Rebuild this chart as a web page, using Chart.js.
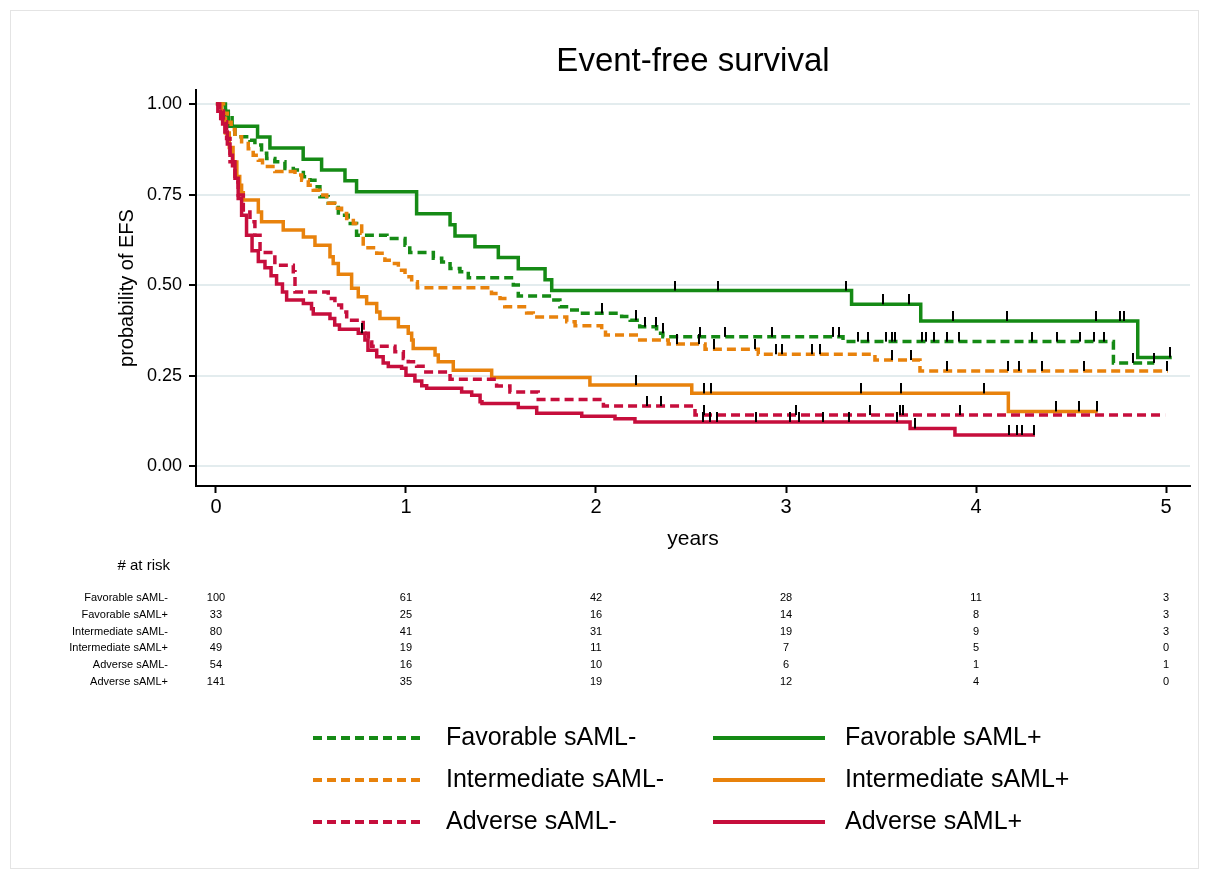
<!DOCTYPE html>
<html>
<head>
<meta charset="utf-8">
<title>Event-free survival</title>
<script src="https://cdn.jsdelivr.net/npm/chart.js@4.4.1/dist/chart.umd.min.js"></script>
<style>
  html, body { margin: 0; padding: 0; background: #fff; }
  #wrap { position: relative; width: 1209px; height: 879px; }
</style>
</head>
<body>
<div id="wrap"><canvas id="km" width="1209" height="879"></canvas></div>
<script>
const groups = ["Favorable sAML-", "Favorable sAML+", "Intermediate sAML-",
                "Intermediate sAML+", "Adverse sAML-", "Adverse sAML+"];

const xTicks = [0, 1, 2, 3, 4, 5];
const yTicks = [0, 0.25, 0.5, 0.75, 1];

// Kaplan-Meier steps: time (years) and survival after the step
const favNegT = [0, 0.03, 0.05, 0.065, 0.085, 0.1, 0.179, 0.205, 0.24, 0.267, 0.31, 0.363, 0.407, 0.46, 0.495, 0.521, 0.547, 0.591, 0.644, 0.696, 0.74, 0.9, 0.995, 1.02, 1.144, 1.188, 1.232, 1.284, 1.328, 1.565, 1.591, 1.767, 1.81, 1.863, 1.916, 2.135, 2.18, 2.23, 2.319, 2.352, 3.30, 4.723, 4.938];
const favNegS = [1, 0.99, 0.98, 0.97, 0.94, 0.91, 0.90, 0.887, 0.864, 0.85, 0.841, 0.822, 0.818, 0.799, 0.79, 0.772, 0.744, 0.726, 0.693, 0.67, 0.638, 0.629, 0.61, 0.59, 0.574, 0.564, 0.546, 0.537, 0.52, 0.50, 0.470, 0.459, 0.44, 0.431, 0.422, 0.413, 0.403, 0.385, 0.367, 0.357, 0.344, 0.285, 0.285];
const favNegCens = [2.03, 2.21, 2.258, 2.314, 2.35, 2.547, 2.68, 2.925, 3.246, 3.281, 3.381, 3.433, 3.525, 3.558, 3.574, 3.718, 3.735, 3.779, 3.846, 3.909, 4.296, 4.428, 4.547, 4.623, 4.674, 4.825, 4.938];

const favPosT = [0, 0.05, 0.065, 0.219, 0.284, 0.459, 0.556, 0.679, 0.74, 1.056, 1.232, 1.258, 1.363, 1.486, 1.591, 1.732, 1.767, 3.345, 3.709, 4.851, 5.03];
const favPosS = [1, 0.97, 0.939, 0.909, 0.879, 0.848, 0.818, 0.788, 0.758, 0.697, 0.667, 0.636, 0.606, 0.576, 0.545, 0.515, 0.485, 0.447, 0.401, 0.300, 0.300];
const favPosCens = [2.416, 2.644, 3.314, 3.509, 3.649, 3.879, 4.165, 4.630, 4.758, 4.781, 5.02];

const intNegT = [0, 0.04, 0.06, 0.08, 0.1, 0.135, 0.17, 0.196, 0.223, 0.245, 0.31, 0.416, 0.451, 0.486, 0.512, 0.547, 0.583, 0.626, 0.661, 0.688, 0.723, 0.767, 0.775, 0.846, 0.889, 0.925, 0.96, 0.995, 1.03, 1.06, 1.45, 1.495, 1.52, 1.635, 1.67, 1.846, 1.89, 2.03, 2.05, 2.23, 2.38, 2.574, 2.854, 3.468, 3.705, 5.01];
const intNegS = [1, 0.975, 0.95, 0.93, 0.91, 0.891, 0.877, 0.859, 0.845, 0.828, 0.814, 0.804, 0.79, 0.776, 0.762, 0.749, 0.726, 0.712, 0.698, 0.684, 0.670, 0.643, 0.603, 0.588, 0.569, 0.56, 0.541, 0.523, 0.509, 0.493, 0.477, 0.463, 0.44, 0.423, 0.412, 0.399, 0.388, 0.376, 0.362, 0.348, 0.337, 0.323, 0.309, 0.293, 0.263, 0.263];
const intNegCens = [2.425, 2.544, 2.621, 2.837, 2.946, 2.98, 3.138, 3.179, 3.56, 3.658, 3.846, 4.17, 4.228, 4.346, 4.568, 5.007];

const intPosT = [0, 0.03, 0.05, 0.07, 0.09, 0.11, 0.125, 0.135, 0.144, 0.223, 0.24, 0.354, 0.46, 0.521, 0.6, 0.617, 0.644, 0.714, 0.749, 0.793, 0.846, 0.863, 0.96, 1.012, 1.03, 1.038, 1.153, 1.17, 1.249, 1.451, 1.968, 2.504, 4.17, 4.64];
const intPosS = [1, 0.96, 0.92, 0.88, 0.84, 0.80, 0.776, 0.755, 0.735, 0.702, 0.675, 0.652, 0.633, 0.61, 0.578, 0.56, 0.53, 0.491, 0.468, 0.449, 0.426, 0.408, 0.385, 0.367, 0.348, 0.325, 0.307, 0.288, 0.265, 0.245, 0.224, 0.201, 0.151, 0.151];
const intPosCens = [2.209, 2.57, 2.604, 3.393, 3.605, 4.044, 4.42, 4.542, 4.638];

const advNegT = [0, 0.02, 0.039, 0.056, 0.074, 0.1, 0.117, 0.144, 0.179, 0.205, 0.232, 0.31, 0.407, 0.416, 0.591, 0.626, 0.661, 0.688, 0.775, 0.802, 0.82, 0.942, 0.986, 1.012, 1.056, 1.09, 1.232, 1.477, 1.547, 1.696, 2.039, 2.521, 4.995];
const advNegS = [1, 0.981, 0.951, 0.905, 0.841, 0.785, 0.749, 0.702, 0.675, 0.638, 0.59, 0.555, 0.537, 0.481, 0.463, 0.445, 0.426, 0.403, 0.367, 0.343, 0.331, 0.316, 0.297, 0.288, 0.276, 0.26, 0.24, 0.221, 0.205, 0.184, 0.166, 0.141, 0.141];
const advNegCens = [2.267, 2.341, 2.568, 3.051, 3.442, 3.6, 3.614, 3.916];

const advPosT = [0, 0.01, 0.025, 0.035, 0.047, 0.06, 0.074, 0.087, 0.1, 0.117, 0.135, 0.161, 0.19, 0.223, 0.258, 0.29, 0.319, 0.35, 0.372, 0.46, 0.503, 0.512, 0.6, 0.625, 0.65, 0.749, 0.784, 0.8, 0.846, 0.88, 0.907, 0.977, 1.0, 1.047, 1.083, 1.109, 1.293, 1.346, 1.39, 1.40, 1.591, 1.688, 1.925, 2.1, 2.205, 3.653, 3.889, 4.31];
const advPosS = [1, 0.98, 0.96, 0.945, 0.923, 0.89, 0.859, 0.83, 0.795, 0.739, 0.693, 0.638, 0.595, 0.565, 0.548, 0.526, 0.503, 0.481, 0.459, 0.449, 0.435, 0.42, 0.408, 0.39, 0.378, 0.367, 0.348, 0.32, 0.302, 0.285, 0.275, 0.27, 0.251, 0.235, 0.222, 0.215, 0.205, 0.196, 0.178, 0.173, 0.162, 0.146, 0.138, 0.131, 0.122, 0.104, 0.086, 0.086];
const advPosCens = [0.767, 2.561, 2.6, 2.635, 2.842, 3.021, 3.068, 3.193, 3.332, 3.582, 3.679, 4.175, 4.214, 4.244, 4.305];

// number at risk at years 0..5
const riskFavNeg = [100, 61, 42, 28, 11, 3];
const riskFavPos = [33, 25, 16, 14, 8, 3];
const riskIntNeg = [80, 41, 31, 19, 9, 3];
const riskIntPos = [49, 19, 11, 7, 5, 0];
const riskAdvNeg = [54, 16, 10, 6, 1, 1];
const riskAdvPos = [141, 35, 19, 12, 4, 0];

const FONT = "'Liberation Sans', Arial, Helvetica, sans-serif";
const GREEN = "#158a15";
const ORANGE = "#e8820c";
const RED = "#c60e3c";
const DASH = [9, 5];

const series = [
  { t: favNegT, s: favNegS, c: favNegCens, color: GREEN, dash: DASH },
  { t: favPosT, s: favPosS, c: favPosCens, color: GREEN, dash: [] },
  { t: intNegT, s: intNegS, c: intNegCens, color: ORANGE, dash: DASH },
  { t: intPosT, s: intPosS, c: intPosCens, color: ORANGE, dash: [] },
  { t: advNegT, s: advNegS, c: advNegCens, color: RED, dash: DASH },
  { t: advPosT, s: advPosS, c: advPosCens, color: RED, dash: [] }
];
const riskRows = [riskFavNeg, riskFavPos, riskIntNeg, riskIntPos, riskAdvNeg, riskAdvPos];

// survival value in effect at time x
function survAt(T, S, x) {
  let v = S[0];
  for (let i = 0; i < T.length; i++) {
    if (T[i] <= x) v = S[i];
  }
  return v;
}

// little vertical tick sitting on top of the curve
const tick = document.createElement("canvas");
tick.width = 2;
tick.height = 20;
const tctx = tick.getContext("2d");
tctx.fillStyle = "#000";
tctx.fillRect(0, 0, 2, 10);

const datasets = [];
series.forEach((g, i) => {
  datasets.push({
    type: "line",
    label: groups[i],
    data: g.t.map((x, k) => ({ x: x, y: g.s[k] })),
    borderColor: g.color,
    borderWidth: 3.5,
    borderDash: g.dash,
    stepped: true,
    pointRadius: 0,
    fill: false,
    order: 15 - i
  });
  datasets.push({
    type: "scatter",
    label: groups[i] + " censored",
    data: g.c.map(x => ({ x: x, y: survAt(g.t, g.s, x) })),
    pointStyle: tick,
    pointRadius: 4,
    order: 0
  });
});

const extras = {
  id: "extras",
  afterDraw(chart) {
    const ctx = chart.ctx;
    const xs = chart.scales.x;
    const area = chart.chartArea;
    ctx.save();

    ctx.strokeStyle = "#e4e4e4";
    ctx.lineWidth = 1;
    ctx.strokeRect(10.5, 10.5, 1188, 858);

    // title, centred over the plot region
    ctx.fillStyle = "#000";
    ctx.textBaseline = "middle";
    ctx.textAlign = "center";
    ctx.font = "33px " + FONT;
    ctx.fillText("Event-free survival", (area.left + area.right) / 2, 62);

    // risk table
    ctx.textAlign = "right";
    ctx.font = "15px " + FONT;
    ctx.fillText("# at risk", 170, 566);
    ctx.font = "11px " + FONT;
    riskRows.forEach((row, i) => {
      const y = 598 + i * 16.8;
      ctx.textAlign = "right";
      ctx.fillText(groups[i], 168, y);
      ctx.textAlign = "center";
      row.forEach((n, j) => ctx.fillText(String(n), xs.getPixelForValue(xTicks[j]), y));
    });

    // legend: sAML- on the left, sAML+ on the right
    const cols = [{ x0: 313, x1: 425, tx: 446 }, { x0: 713, x1: 825, tx: 845 }];
    ctx.font = "25px " + FONT;
    ctx.textAlign = "left";
    series.forEach((g, i) => {
      const col = cols[i % 2];
      const y = 738 + Math.floor(i / 2) * 42;
      ctx.strokeStyle = g.color;
      ctx.lineWidth = 4;
      ctx.setLineDash(g.dash);
      ctx.beginPath();
      ctx.moveTo(col.x0, y);
      ctx.lineTo(col.x1, y);
      ctx.stroke();
      ctx.setLineDash([]);
      ctx.fillText(groups[i], col.tx, y);
    });
    ctx.restore();
  }
};

Chart.defaults.font.family = FONT;
Chart.defaults.color = "#000";

new Chart(document.getElementById("km"), {
  data: { datasets: datasets },
  options: {
    responsive: false,
    animation: false,
    events: [],
    layout: { padding: { left: 105, right: 19, top: 90, bottom: 323 } },
    plugins: {
      legend: { display: false },
      tooltip: { enabled: false },
      title: { display: false }
    },
    scales: {
      x: {
        type: "linear",
        min: -0.105,
        max: 5.126,
        afterBuildTicks: s => { s.ticks = xTicks.map(v => ({ value: v })); },
        afterFit: s => { s.height = 70; },
        grid: { drawOnChartArea: false, tickLength: 7, tickColor: "#000", tickWidth: 2 },
        border: { color: "#000", width: 2 },
        ticks: { font: { size: 20 }, padding: 2, maxRotation: 0, autoSkip: false },
        title: { display: true, text: "years", font: { size: 21 }, padding: { top: 0, bottom: 4 } }
      },
      y: {
        type: "linear",
        min: -0.055,
        max: 1.039,
        afterBuildTicks: s => { s.ticks = yTicks.map(v => ({ value: v })); },
        afterFit: s => { s.width = 91; },
        grid: { color: "#e3ecee", lineWidth: 2, tickLength: 7, tickColor: "#000", tickWidth: 2 },
        border: { color: "#000", width: 2 },
        ticks: { font: { size: 18 }, padding: 7, callback: v => v.toFixed(2) },
        title: { display: true, text: "probability of EFS", font: { size: 20 }, padding: { top: 10 } }
      }
    }
  },
  plugins: [extras]
});
</script>
</body>
</html>
